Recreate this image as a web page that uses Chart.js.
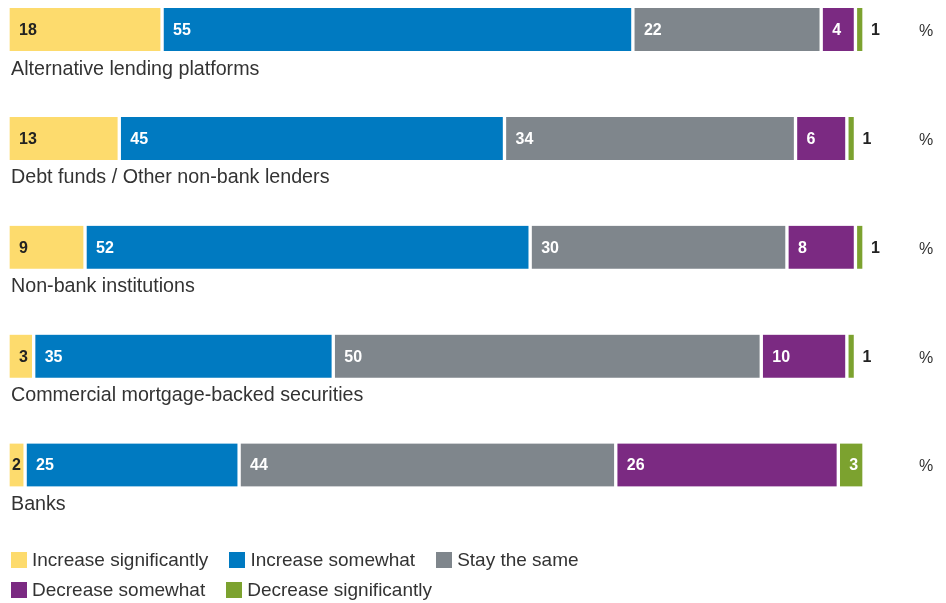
<!DOCTYPE html>
<html>
<head>
<meta charset="utf-8">
<script src="https://cdn.jsdelivr.net/npm/chart.js@4"></script>
<style>
  html, body { margin: 0; padding: 0; background: #fff; }
  #wrap { position: relative; width: 946px; height: 603px; }
  #legend { position: absolute; left: 11px; top: 545px; font-family: "Liberation Sans", Arial, sans-serif; font-size: 19px; color: #333; }
  .row { display: flex; height: 30px; align-items: center; }
  .item { display: flex; align-items: center; margin-right: 21px; }
  .sw { width: 16px; height: 16px; margin-right: 5px; }
</style>
</head>
<body>
<div id="wrap">
  <canvas id="chart" width="946" height="603"></canvas>
  <div id="legend"></div>
</div>
<script>
const categories = ['Alternative lending platforms', 'Debt funds / Other non-bank lenders', 'Non-bank institutions', 'Commercial mortgage-backed securities', 'Banks'];
const seriesNames = ['Increase significantly', 'Increase somewhat', 'Stay the same', 'Decrease somewhat', 'Decrease significantly'];
const incSig = [18, 13, 9, 3, 2];
const incSome = [55, 45, 52, 35, 25];
const same = [22, 34, 30, 50, 44];
const decSome = [4, 6, 8, 10, 26];
const decSig = [1, 1, 1, 1, 3];

const colors = ['#fddb6d', '#007ac1', '#7f868c', '#7b2a82', '#7ca22f'];
const labelColors = ['#222', '#fff', '#fff', '#fff', '#fff'];
const allData = [incSig, incSome, same, decSome, decSig];

const valueLabels = {
  id: 'valueLabels',
  afterDatasetsDraw(chart) {
    const ctx = chart.ctx;
    ctx.save();
    ctx.textBaseline = 'middle';
    ctx.font = 'bold 16px "Liberation Sans", Arial, sans-serif';
    chart.data.datasets.forEach((ds, i) => {
      const meta = chart.getDatasetMeta(i);
      meta.data.forEach((bar, j) => {
        const v = ds.data[j];
        const left = Math.min(bar.base, bar.x) + 2;
        const right = Math.max(bar.base, bar.x) - 2;
        const tw = ctx.measureText(String(v)).width;
        if (v <= 1) {
          ctx.fillStyle = '#222';
          ctx.fillText(v, right + 9, bar.y + 1);
        } else {
          const off = Math.min(9, Math.max(2, right - left - tw - 3));
          ctx.fillStyle = labelColors[i];
          ctx.fillText(v, left + off, bar.y + 1);
        }
      });
    });
    // category names and % marks
    const meta0 = chart.getDatasetMeta(0);
    meta0.data.forEach((bar, j) => {
      ctx.font = '19.7px "Liberation Sans", Arial, sans-serif';
      ctx.fillStyle = '#333';
      ctx.textBaseline = 'alphabetic';
      ctx.fillText(categories[j], 11, bar.y + 45);
      ctx.textBaseline = 'middle';
      ctx.font = '16px "Liberation Sans", Arial, sans-serif';
      ctx.fillText('%', 919, bar.y + 2);
    });
    ctx.restore();
  }
};

new Chart(document.getElementById('chart'), {
  type: 'bar',
  data: {
    labels: categories,
    datasets: allData.map((d, i) => ({
      label: seriesNames[i],
      data: d,
      backgroundColor: colors[i],
      borderColor: '#fff',
      borderWidth: { left: 2, right: 2, top: 0, bottom: 0 },
      borderSkipped: false,
      barThickness: 43,
      clip: false
    }))
  },
  options: {
    indexAxis: 'y',
    responsive: false,
    animation: false,
    layout: { padding: { left: 8, right: 82, top: 29.5, bottom: 138 } },
    scales: {
      x: { stacked: true, min: 0, max: 100, display: false },
      y: { stacked: true, display: false, offset: false }
    },
    plugins: { legend: { display: false }, tooltip: { enabled: false } }
  },
  plugins: [valueLabels]
});

const legend = document.getElementById('legend');
const rows = [[0, 1, 2], [3, 4]];
rows.forEach(r => {
  const row = document.createElement('div');
  row.className = 'row';
  r.forEach(i => {
    const item = document.createElement('div');
    item.className = 'item';
    item.innerHTML = '<span class="sw" style="background:' + colors[i] + '"></span><span>' + seriesNames[i] + '</span>';
    row.appendChild(item);
  });
  legend.appendChild(row);
});
</script>
</body>
</html>
